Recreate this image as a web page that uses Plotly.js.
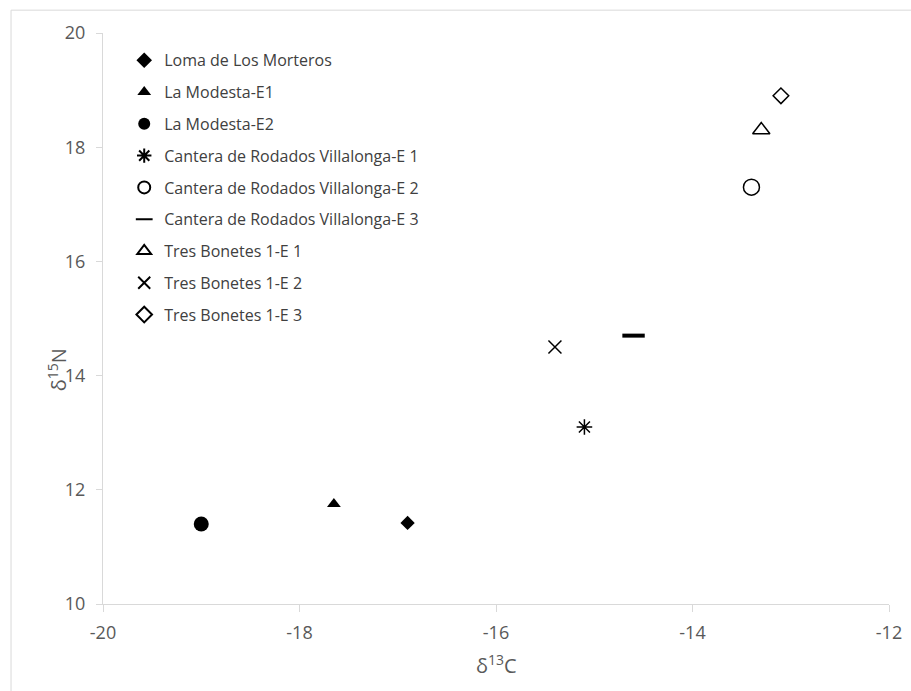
<!DOCTYPE html>
<html>
<head>
<meta charset="utf-8">
<script src="https://cdn.plot.ly/plotly-3.0.1.min.js"></script>
<style>html,body{margin:0;padding:0;background:#fff;}#chart{width:911px;height:691px;}</style>
</head>
<body>
<div id="chart"></div>
<script>
const names = ["Loma de Los Morteros","La Modesta-E1","La Modesta-E2","Cantera de Rodados Villalonga-E 1","Cantera de Rodados Villalonga-E 2","Cantera de Rodados Villalonga-E 3","Tres Bonetes 1-E 1","Tres Bonetes 1-E 2","Tres Bonetes 1-E 3"];
const d13C = [-16.9, -17.65, -19.0, -15.1, -13.4, -14.6, -13.3, -15.4, -13.1];
const d15N = [11.42, 11.75, 11.4, 13.1, 17.3, 14.7, 18.3, 14.5, 18.9];
const xTickVals = [-20, -18, -16, -14, -12];
const xTickText = ["-20", "-18", "-16", "-14", "-12"];
const yTickVals = [10, 12, 14, 16, 18, 20];
const yTickText = ["10", "12", "14", "16", "18", "20"];
const symbols = ["diamond","triangle-up","circle","asterisk-open","circle-open","line-ew-open","triangle-up-open","x-thin-open","diamond-open"];
const sizes = [11, 12, 15, 13, 16, 16, 15, 13, 12];
const lineWidths = [0, 0, 0, 1.5, 1.5, 4, 1.5, 1.5, 1.5];

const traces = names.map((n, i) => ({
  type: "scatter", mode: "markers", name: n,
  x: [d13C[i]], y: [d15N[i]],
  legendgroup: "g" + i,
  marker: { symbol: symbols[i], size: sizes[i], color: "#000",
            line: { color: "#000", width: lineWidths[i] } }
}));

const gray = "#595959";
const fam = "'Open Sans', sans-serif";
const layout = {
  width: 911, height: 691,
  margin: { l: 103, r: 22, t: 33, b: 87 },
  paper_bgcolor: "#fff", plot_bgcolor: "#fff",
  font: { family: fam, color: gray, size: 16 },
  showlegend: true,
  legend: { x: 0.027, y: 0.982, xanchor: "left", yanchor: "top",
            font: { family: fam, size: 16, color: "#404040" }, traceorder: "grouped",
            itemsizing: "constant",
            tracegroupgap: 8, bgcolor: "rgba(0,0,0,0)" },
  xaxis: { range: [-20, -12], tickvals: xTickVals, ticktext: xTickText, showgrid: false, zeroline: false,
           showline: true, linecolor: "#d9d9d9", linewidth: 1,
           ticks: "outside", ticklen: 7, tickcolor: "#d9d9d9", ticklabelstandoff: 5,
           tickfont: { family: fam, size: 18, color: gray } },
  yaxis: { range: [10, 20], tickvals: yTickVals, ticktext: yTickText, showgrid: false, zeroline: false,
           showline: true, linecolor: "#d9d9d9", linewidth: 1,
           ticks: "outside", ticklen: 6, tickcolor: "#d9d9d9", ticklabelstandoff: 7,
           tickfont: { family: fam, size: 18, color: gray } },
  annotations: [
    { text: "δ<sup>13</sup>C", xref: "paper", yref: "paper", x: 0.5, y: -0.106,
      xanchor: "center", yanchor: "middle", showarrow: false,
      font: { family: fam, size: 20, color: gray } },
    { text: "δ<sup>15</sup>N", xref: "paper", yref: "paper", x: -0.058, y: 0.41,
      xanchor: "center", yanchor: "middle", showarrow: false, textangle: -90,
      font: { family: fam, size: 20, color: gray } }
  ],
  shapes: [{ type: "rect", xref: "paper", yref: "paper",
             x0: -0.117, x1: 1.035, y0: -0.16, y1: 1.04,
             line: { color: "#d9d9d9", width: 1 }, fillcolor: "rgba(0,0,0,0)", layer: "below" }]
};
Plotly.newPlot("chart", traces, layout, { displayModeBar: false, staticPlot: true });
</script>
</body>
</html>
